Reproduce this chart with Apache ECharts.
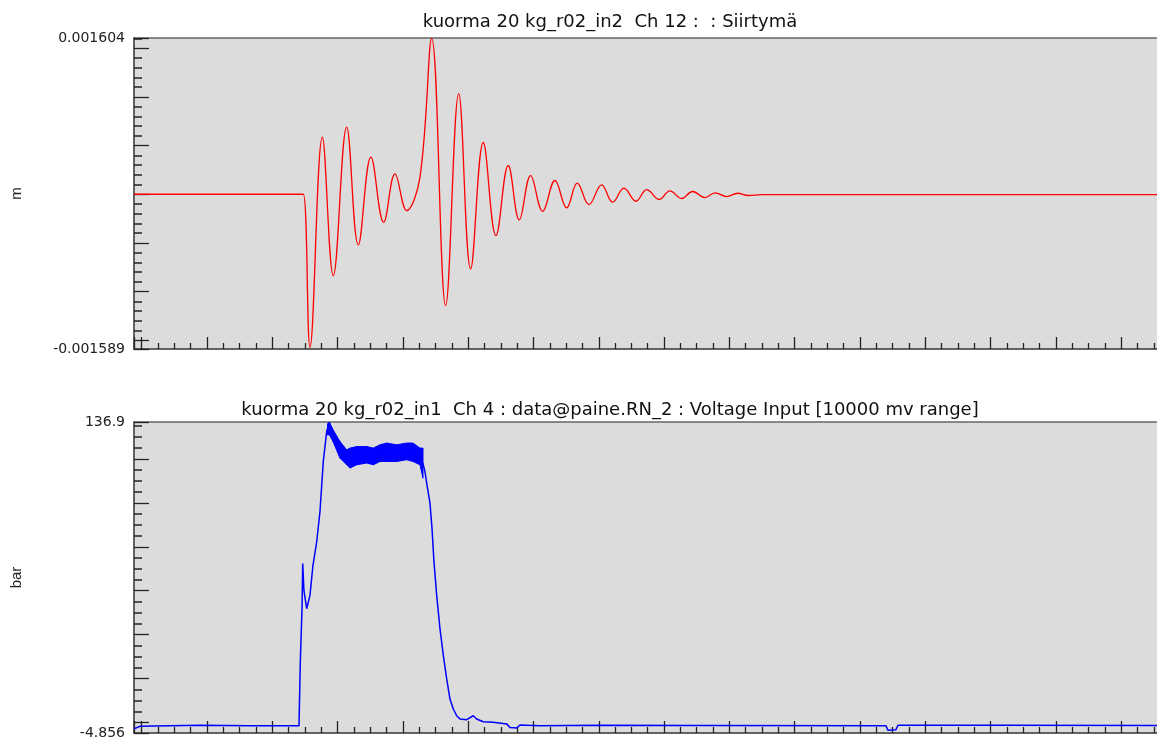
<!DOCTYPE html>
<html lang="en" style="height: 100%">

<head>
  <meta charset="utf-8">
</head>

<body style="height: 100%; margin: 0; background: #fff">
  <div id="container" style="height: 100%"></div>

  <script type="text/javascript" src="https://fastly.jsdelivr.net/npm/echarts@6/dist/echarts.min.js"></script>

  <script type="text/javascript">
    // time in ms, one major x tick every 100 ms (no labels shown on the original)
    var timeMin = -11.8;
    var timeMax = 1558;

    var topTitle = 'kuorma 20 kg_r02_in2  Ch 12 :  : Siirtymä';
    var bottomTitle = 'kuorma 20 kg_r02_in1  Ch 4 : data@paine.RN_2 : Voltage Input [10000 mv range]';
    var topUnit = 'm';
    var bottomUnit = 'bar';
    var topRange = [-0.001589, 0.001604];
    var bottomRange = [-4.856, 136.9];

    var dispTime = [-11.8, 240, 247.5, 257.7, 276.6, 293.4, 313.9, 331.7, 351.1, 370.6, 387.9, 405.8,
      426.2, 444.1, 465.5, 485.5, 503.8, 523.1, 542.6, 561.4, 578.3, 595.7, 614.1, 632.9, 650.8,
      667.1, 685, 704.4, 721.3, 738.6, 757, 773.4, 792.6, 809, 826.9, 843.8, 862.6, 878, 895.9,
      912.7, 928.9, 950, 1558];
    var dispValue = [0, 0, 0, -0.001573, 0.000586, -0.000836, 0.000689, -0.00052, 0.00038, -0.000288,
      0.00021, -0.000168, 0.000175, 0.0016, -0.001144, 0.001032, -0.000767, 0.000531, -0.000425,
      0.000295, -0.000263, 0.000192, -0.000175, 0.000141, -0.00014, 0.000113, -0.000106, 0.000097,
      -0.000082, 0.000062, -0.000072, 0.000048, -0.000054, 0.000035, -0.000044, 0.000028, -0.000034,
      0.000014, -0.000024, 0.00001, -0.000013, -0.000004, -0.000004];

    // Ch 4 pressure (bar)
    var presTime = [-11.8, -2.6, 89.3, 165.8, 240.9, 242.9, 245.5, 246.6, 248.5, 252.7, 257.7, 262.3,
      268, 273, 278.1, 283.3, 287.3, 293.4, 303.7, 313.9, 319, 329.2, 344.6, 354.7, 364.9, 375.2,
      390.5, 405.8, 415.5, 426.2, 430.8, 433.8, 436.9, 441.5, 444.6, 447.6, 451.8, 456.8, 461.9,
      467.1, 472.1, 477.2, 482.4, 487.4, 497.7, 507.8, 513, 523.1, 538.4, 559, 564, 574.3, 579.3,
      610, 701.8, 855, 1139.8, 1142.8, 1155.1, 1158.2, 1314.4, 1558];
    var presValue = [-3, -1.8, -1.3, -1.5, -1.5, 27.4, 51.8, 72.4, 60, 51.8, 57.9, 71.6,
      82.3, 96, 118.9, 132.6, 136.4, 131.5, 124.5, 120.8, 120.5, 121.5, 122, 121.2, 122.7, 123.1,
      122.7, 123.5, 123.1, 121.2, 118, 114.3, 108.2, 99.9, 88.4, 73.2, 57.9, 42.7, 30.5,
      19.8, 10.6, 6.1, 3, 1.5, 1.2, 3, 1.5, 0.3, 0, -0.7, -2.3, -2.6, -1.2,
      -1.5, -1.3, -1.4, -1.5, -3.6, -3.4, -1.3, -1.3, -1.4];

    // noise band on the plateau: lower and upper edges
    var bandTime = [284.5, 287.3, 293, 303.7, 313.9, 319, 329.2, 344.6, 354.7, 364.9, 375.2, 390.5,
      405.8, 415.5, 426.2, 430.8];
    var bandLow = [131, 131.1, 128, 120.4, 117.4, 115.9, 117.4, 118.2, 117.4, 118.9, 118.9, 118.9,
      119.7, 118.9, 117.4, 111.3];
    var bandHigh = [136, 136.9, 133.4, 128, 124.2, 125, 125.7, 125.7, 125, 126.5, 127.3, 126.5,
      127.3, 127.3, 125, 125];

    function pairs(xs, ys) {
      return xs.map(function (x, i) { return [x, ys[i]]; });
    }

    var labelFont = 'DejaVu Sans, sans-serif';
    var lineColor = '#555';
    var tickColor = '#222';

    // no fixed interval: splitNumber lands on the nice step, minor ticks subdivide it
    function xAxisFor(grid) {
      return {
        type: 'value', gridIndex: grid, min: timeMin, max: timeMax, position: 'bottom',
        splitNumber: 15, minInterval: 100, maxInterval: 100,
        axisLine: { show: true, onZero: false, lineStyle: { color: lineColor, width: 1.5 } },
        axisTick: { show: true, inside: true, length: 12, lineStyle: { color: tickColor, width: 1.3 } },
        minorTick: { show: true, splitNumber: 4, length: 6, lineStyle: { color: tickColor, width: 1.3 } },
        axisLabel: { show: false }, splitLine: { show: false }, minorSplitLine: { show: false }
      };
    }
    function yAxisFor(grid, range, splitNumber, minorSplit, unit) {
      return {
        type: 'value', gridIndex: grid, min: range[0], max: range[1], position: 'left',
        splitNumber: splitNumber,
        name: unit, nameLocation: 'middle', nameGap: 110, nameRotate: 90,
        nameTextStyle: { fontSize: 15, color: '#222', fontFamily: 'Liberation Sans, Arial, sans-serif' },
        axisLine: { show: true, onZero: false, lineStyle: { color: lineColor, width: 1.5 } },
        axisTick: { show: true, inside: true, length: 15, lineStyle: { color: tickColor, width: 1.3 } },
        minorTick: { show: true, splitNumber: minorSplit, length: 8, lineStyle: { color: tickColor, width: 1.5 } },
        axisLabel: {
          show: true, customValues: range, margin: 9, fontSize: 14, color: '#222', fontFamily: labelFont,
          formatter: function (v) { return String(v); }
        },
        splitLine: { show: false }, minorSplitLine: { show: false }
      };
    }

    var dom = document.getElementById('container');
    var myChart = echarts.init(dom, null, { renderer: 'canvas' });

    var titleStyle = { fontSize: 18, fontWeight: 'normal', color: '#111', fontFamily: labelFont };
    var gridStyle = { show: true, backgroundColor: '#dcdcdc', borderColor: '#666', borderWidth: 1.5, outerBoundsMode: 'none', containLabel: false };

    var option = {
      animation: false,
      title: [
        { text: topTitle, left: 605, top: 8, textAlign: 'center', textStyle: titleStyle },
        { text: bottomTitle, left: 605, top: 396, textAlign: 'center', textStyle: titleStyle }
      ],
      grid: [
        Object.assign({ left: 134, right: -2, top: 38, height: 311 }, gridStyle),
        Object.assign({ left: 134, right: -2, top: 422, height: 311 }, gridStyle)
      ],
      xAxis: [xAxisFor(0), xAxisFor(1)],
      yAxis: [
        yAxisFor(0, topRange, 5, 5, topUnit),
        yAxisFor(1, bottomRange, 7, 4, bottomUnit)
      ],
      series: [
        {
          name: 'Siirtymä', type: 'line', xAxisIndex: 0, yAxisIndex: 0,
          data: pairs(dispTime, dispValue), showSymbol: false, smooth: 0.4,
          lineStyle: { color: '#ff0000', width: 1.3 }
        },
        {
          name: 'paine', type: 'line', xAxisIndex: 1, yAxisIndex: 1,
          data: pairs(presTime, presValue), showSymbol: false,
          lineStyle: { color: '#0000ff', width: 1.5 }
        },
        {
          // noise band drawn as quads between consecutive band samples
          name: 'paine noise', type: 'custom', xAxisIndex: 1, yAxisIndex: 1,
          data: bandTime.map(function (t, i) { return [t, bandLow[i], bandHigh[i]]; }),
          encode: { x: 0, y: [1, 2] },
          renderItem: function (params, api) {
            var i = params.dataIndex;
            if (i >= bandTime.length - 1) return null;
            var pts = [
              api.coord([bandTime[i], bandHigh[i]]),
              api.coord([bandTime[i + 1], bandHigh[i + 1]]),
              api.coord([bandTime[i + 1], bandLow[i + 1]]),
              api.coord([bandTime[i], bandLow[i]])
            ];
            return {
              type: 'polygon', shape: { points: pts },
              style: { fill: '#0000ff', stroke: '#0000ff', lineWidth: 1 }
            };
          }
        }
      ]
    };

    myChart.setOption(option);
    window.addEventListener('resize', myChart.resize);
  </script>
</body>

</html>
